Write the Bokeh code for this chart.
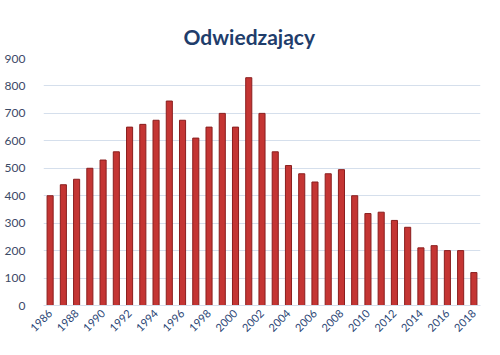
import math
from bokeh.plotting import figure
from bokeh.models import ColumnDataSource, FixedTicker, Range1d
from bokeh.embed import file_html
from bokeh.resources import INLINE

years = list(range(1986, 2019))
visitors = [400, 440, 460, 500, 530, 560, 650, 660, 675, 745, 675, 610, 650, 700, 650, 830,
            700, 560, 510, 480, 450, 480, 495, 400, 335, 340, 310, 285, 210, 218, 200, 200, 120]
y_ticks = [0, 100, 200, 300, 400, 500, 600, 700, 800, 900]
x_ticks = list(range(1986, 2019, 2))
title_text = "Odwiedzający"

src = ColumnDataSource(dict(year=years, value=visitors))

p = figure(x_range=Range1d(years[0] - 0.5, years[-1] + 0.5), y_range=Range1d(0, 900),
           width=484, height=339,
           output_backend="svg", toolbar_location=None,
           min_border_left=43, min_border_right=4, min_border_top=58, min_border_bottom=34)

p.title.text = title_text
p.title.align = "left"
p.title.offset = 140
p.title.vertical_align = "middle"
p.title.standoff = 18
p.title.text_font = "Lato"
p.title.text_font_size = "21px"
p.title.text_font_style = "bold"
p.title.text_color = "#1F3D6B"

p.vbar(x="year", top="value", width=0.46, source=src,
       fill_color="#C43533", line_color="#8A1E1E", line_width=1)

p.yaxis.ticker = FixedTicker(ticks=y_ticks)
p.xaxis.ticker = FixedTicker(ticks=x_ticks)
p.ygrid.grid_line_color = "#D5DFEC"
p.ygrid.grid_line_width = 1
p.xgrid.grid_line_color = None

p.yaxis.axis_line_color = None
p.yaxis.major_tick_line_color = None
p.yaxis.minor_tick_line_color = None
p.yaxis.major_label_text_font = "Lato"
p.yaxis.major_label_text_font_size = "12px"
p.yaxis.major_label_text_color = "#3B4A66"
p.yaxis.major_label_standoff = 12

p.xaxis.axis_line_color = "#D5DFEC"
p.xaxis.major_tick_line_color = None
p.xaxis.minor_tick_line_color = None
p.xaxis.major_tick_out = 0
p.xaxis.major_tick_in = 0
p.xaxis.major_label_orientation = math.pi / 4
p.xaxis.major_label_text_font = "Lato"
p.xaxis.major_label_text_font_size = "11px"
p.xaxis.major_label_text_color = "#2B4675"
p.xaxis.major_label_standoff = 6

p.outline_line_color = None
p.border_fill_color = "white"
p.background_fill_color = "white"

open("out.html", "w").write(file_html(p, INLINE))
